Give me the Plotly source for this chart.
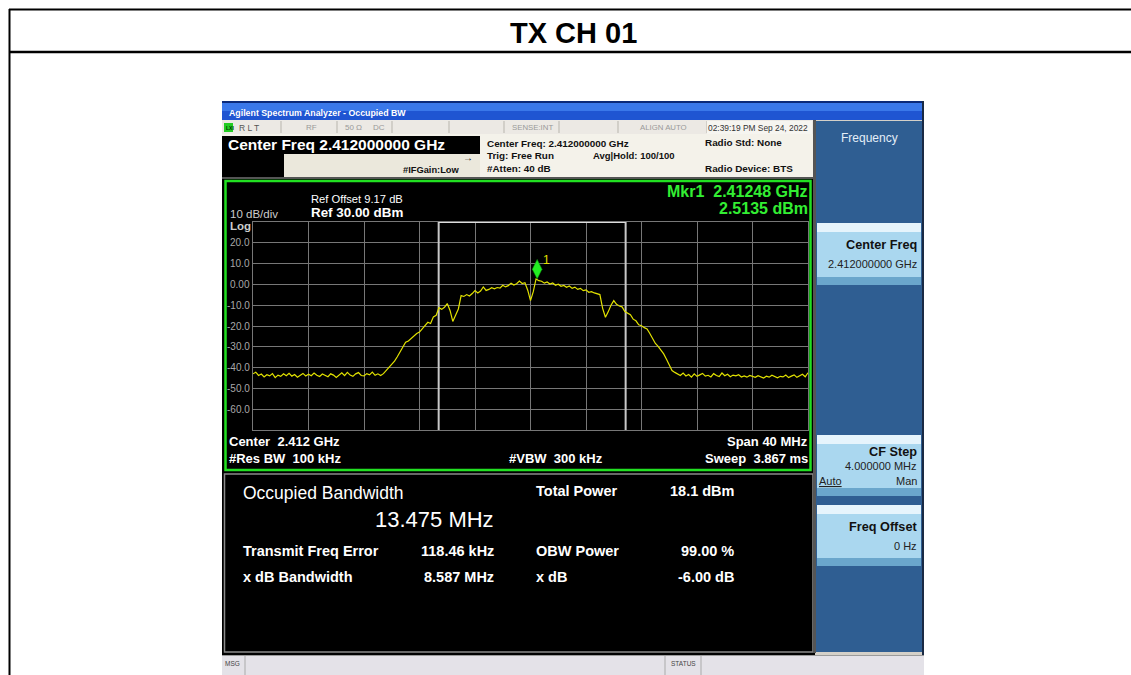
import plotly.graph_objects as go

# ---------------- data ----------------
center_mhz = 2412.0
span_mhz = 40.0
n_points = 201
trace_dbm = [
    -43.0, -42.2, -43.8, -43.1, -44.5, -43.4, -44.0, -42.9, -44.8, -43.6,
    -44.2, -43.0, -43.9, -42.7, -44.1, -43.3, -44.6, -43.5, -42.8, -44.0,
    -43.2, -43.9, -42.6, -43.7, -44.3, -43.1, -43.8, -44.4, -43.0, -43.6,
    -44.7, -43.4, -42.5, -43.9, -42.3, -43.6, -44.2, -43.0, -42.4, -43.8,
    -44.0, -42.9, -43.5, -42.2, -43.7, -43.0, -43.8, -42.9, -41.5, -40.0,
    -38.6, -36.9, -34.8, -32.5, -30.6, -27.8, -27.2, -25.9, -24.8, -23.6,
    -22.9, -21.4, -20.0, -18.2, -18.8, -15.6, -14.9, -11.2, -12.0, -11.0,
    -9.2, -12.5, -17.8, -15.0, -11.8, -5.4, -5.8, -4.9, -5.6, -4.4,
    -3.0, -4.1, -3.2, -1.2, -2.9, -2.4, -1.6, -2.1, -1.5, -1.8,
    -0.4, -1.2, -0.6, 0.6, -0.3, 0.3, 1.6, 0.4, 0.8, -2.8,
    -7.8, -3.5, 2.6, 1.8, 1.5, 0.6, 1.2, 0.2, 0.7, -0.4,
    0.1, -0.9, -0.5, -1.4, -0.8, -1.9, -1.3, -2.4, -1.9, -3.0,
    -2.6, -3.8, -3.5, -4.1, -4.6, -4.9, -11.5, -15.8, -13.2, -10.0,
    -7.8, -9.6, -10.4, -10.8, -13.0, -13.9, -14.6, -16.7, -17.5, -19.4,
    -19.9, -20.8, -21.4, -23.6, -26.2, -28.4, -29.8, -31.5, -33.4, -36.0,
    -38.7, -41.4, -42.3, -42.9, -43.8, -42.6, -44.0, -43.3, -44.6, -43.0,
    -44.2, -43.5, -42.8, -44.1, -43.7, -44.5, -42.9, -43.8, -44.3, -42.6,
    -43.9, -43.2, -44.4, -43.6, -44.0, -43.4, -44.5, -44.0, -44.6, -43.8,
    -44.2, -44.7, -43.9, -44.3, -45.0, -44.1, -44.6, -43.7, -44.4, -44.9,
    -44.2, -44.5, -43.6, -44.8, -44.1, -43.5, -44.7, -44.0, -43.2, -44.4,
    -42.5,
]
ref_level = 30.0
db_per_div = 10.0
n_div = 10
ytick_labels = ["20.0", "10.0", "0.00", "-10.0", "-20.0", "-30.0", "-40.0", "-50.0", "-60.0"]
ytick_values = [20, 10, 0, -10, -20, -30, -40, -50, -60]
mkr_freq_mhz = 2412.48
mkr_level = 2.5135
obw_mhz = 13.475
freq_err_mhz = 0.11846

# ---------------- helpers ----------------
W, H = 1131, 675
def X(px):
    return px / W
def Y(py):
    return 1 - py / H

shapes = []
annots = []

def rect(x0, y0, x1, y1, fill=None, line=None, lw=1, layer="below"):
    shapes.append(dict(type="rect", xref="paper", yref="paper",
                       x0=X(x0), x1=X(x1), y0=Y(y1), y1=Y(y0),
                       fillcolor=fill if fill else "rgba(0,0,0,0)",
                       line=dict(color=line if line else "rgba(0,0,0,0)", width=lw if line else 0),
                       layer=layer))

def hline(x0, x1, y, color, lw=1, layer="below"):
    shapes.append(dict(type="line", xref="paper", yref="paper", x0=X(x0), x1=X(x1),
                       y0=Y(y), y1=Y(y), line=dict(color=color, width=lw), layer=layer))

def vline(x, y0, y1, color, lw=1, layer="below"):
    shapes.append(dict(type="line", xref="paper", yref="paper", x0=X(x), x1=X(x),
                       y0=Y(y0), y1=Y(y1), line=dict(color=color, width=lw), layer=layer))

FONT = "Liberation Sans, Arial, sans-serif"
def txt(x, y, s, size, color, bold=False, anchor="left", underline=False):
    t = s
    if underline:
        t = f"<u>{t}</u>"
    if bold:
        t = f"<b>{t}</b>"
    annots.append(dict(x=X(x), y=Y(y), xref="paper", yref="paper", text=t, showarrow=False,
                       xanchor=anchor, yanchor="middle", borderpad=0,
                       font=dict(size=size, color=color, family=FONT)))

# ---------------- page frame ----------------
hline(9, 1131, 9.5, "black", 2)
hline(9, 1131, 52, "black", 2.5)
vline(9.5, 9, 675, "black", 2)
txt(573, 33, "TX CH 01", 29, "black", bold=True, anchor="center")

# ---------------- instrument window ----------------
rect(222, 101, 924, 675, fill="#d4d0c8")
rect(222, 101, 924, 103, fill="#0b2a7a")
rect(222, 103, 924, 111, fill="#3a78ea")
rect(222, 111, 924, 120, fill="#1f55d2")
txt(228, 113, "Agilent Spectrum Analyzer - Occupied BW", 8.8, "white", bold=True)

# status row 1
rect(222, 120, 815, 134, fill="#ece9e4")
for sx in [281, 337, 392, 449, 504, 559, 618, 707]:
    vline(sx, 121, 133, "#b8b5ad")
rect(224, 123, 233, 132, fill="#22cc22")
txt(225, 127.5, "LXI", 5, "#003300", bold=True)
txt(238, 127.5, "R L T", 8.5, "#555555")
txt(305, 127.5, "RF", 8, "#999999")
txt(344, 127.5, "50 Ω", 8, "#999999")
txt(372, 127.5, "DC", 8, "#999999")
txt(532, 127.5, "SENSE:INT", 7.8, "#999999", anchor="center")
txt(663, 127.5, "ALIGN AUTO", 7.8, "#999999", anchor="center")
rect(707, 121, 812, 134, fill="#f6f5f0")
txt(758, 128, "02:39:19 PM Sep 24, 2022", 8.4, "#333333", anchor="center")

# info rows
rect(222, 134, 815, 178, fill="#f4f2ea")
rect(284, 154, 480, 178, fill="#ebe8dc")
rect(222, 136, 480, 154, fill="black")
rect(222, 154, 284, 178, fill="black")
txt(227, 145, "Center Freq 2.412000000 GHz", 15.5, "white", bold=True)
txt(402, 170, "#IFGain:Low", 9.3, "#111111", bold=True)
txt(468, 157, "→", 10, "#111111", bold=True, anchor="center")
txt(486, 143, "Center Freq: 2.412000000 GHz", 9.9, "#111111", bold=True)
txt(486, 155.5, "Trig: Free Run", 9.9, "#111111", bold=True)
txt(592, 155.5, "Avg|Hold: 100/100", 9.5, "#111111", bold=True)
txt(486, 168, "#Atten: 40 dB", 9.9, "#111111", bold=True)
txt(704, 142.5, "Radio Std: None", 9.9, "#111111", bold=True)
txt(704, 168, "Radio Device: BTS", 9.9, "#111111", bold=True)
hline(222, 815, 178, "#555555", 2)

# plot panel
rect(222, 179, 815, 475, fill="black")
rect(225.5, 181, 810.5, 470, line="#22e022", lw=2.5)
txt(310, 199, "Ref Offset 9.17 dB", 11.2, "white")
txt(310, 212.5, "Ref 30.00 dBm", 13.4, "white", bold=True)
txt(229, 213.5, "10 dB/div", 11.5, "#cccccc")
txt(229, 226, "Log", 11.5, "#cccccc", bold=True)
txt(809, 191.5, "Mkr1  2.41248 GHz", 16, "#33ee33", bold=True, anchor="right")
txt(809, 208.5, "2.5135 dBm", 16, "#33ee33", bold=True, anchor="right")
txt(228, 441.5, "Center  2.412 GHz", 13, "white", bold=True)
txt(228, 458.5, "#Res BW  100 kHz", 13, "white", bold=True)
txt(508, 458.5, "#VBW  300 kHz", 13, "white", bold=True)
txt(809, 441.5, "Span 40 MHz", 13, "white", bold=True, anchor="right")
txt(809, 458.5, "Sweep  3.867 ms", 13, "white", bold=True, anchor="right")

# results panel
rect(222, 473, 815, 655, fill="black")
rect(224.5, 474, 813, 652, line="#8a8a8a", lw=1.5)
txt(242, 493, "Occupied Bandwidth", 17.5, "white")
txt(495, 519, "13.475 MHz", 22, "white", anchor="right")
txt(242, 551, "Transmit Freq Error", 14.5, "white", bold=True)
txt(495, 551, "118.46 kHz", 14.5, "white", bold=True, anchor="right")
txt(242, 577, "x dB Bandwidth", 14.5, "white", bold=True)
txt(495, 577, "8.587 MHz", 14.5, "white", bold=True, anchor="right")
txt(535, 491, "Total Power", 14.5, "white", bold=True)
txt(735, 491, "18.1 dBm", 14.5, "white", bold=True, anchor="right")
txt(535, 551, "OBW Power", 14.5, "white", bold=True)
txt(735, 551, "99.00 %", 14.5, "white", bold=True, anchor="right")
txt(535, 577, "x dB", 14.5, "white", bold=True)
txt(735, 577, "-6.00 dB", 14.5, "white", bold=True, anchor="right")

# bottom status bar
rect(222, 655, 924, 675, fill="#e4e2e8")
hline(222, 924, 655.5, "#9a9a9a", 1)
vline(245, 656, 675, "#aaaaaa")
vline(665, 656, 675, "#aaaaaa")
vline(701, 656, 675, "#aaaaaa")
txt(224, 663, "MSG", 6.5, "#444444")
txt(683, 663, "STATUS", 6.5, "#444444", anchor="center")

# softkey panel
rect(813, 120, 816, 653, fill="#555555")
rect(816, 121, 922, 652, fill="#2f5e92")
rect(922, 101, 924, 655, fill="#1a2a44")
txt(869, 138, "Frequency", 12, "#e4eef8", anchor="center")

def softkey(y0, y1):
    rect(817, y0, 921, y1, fill="#aad7ef")
    rect(817, y0, 921, y0 + 9, fill="#e6f4fc")
    rect(817, y1 - 8, 921, y1, fill="#6aa6cc")

softkey(223, 285)
txt(918, 245, "Center Freq", 12.7, "#111111", bold=True, anchor="right")
txt(918, 264, "2.412000000 GHz", 11, "#222222", anchor="right")
softkey(435, 496)
txt(918, 452, "CF Step", 12.7, "#111111", bold=True, anchor="right")
txt(918, 466, "4.000000 MHz", 11, "#222222", anchor="right")
txt(818, 481, "Auto", 11, "#222222", underline=True)
txt(918, 481, "Man", 11, "#222222", anchor="right")
softkey(505, 566)
txt(918, 527, "Freq Offset", 12.7, "#111111", bold=True, anchor="right")
txt(918, 546, "0 Hz", 11, "#222222", anchor="right")

# ---------------- the spectrum plot ----------------
f_start = center_mhz - span_mhz / 2
f_stop = center_mhz + span_mhz / 2
step = span_mhz / (n_points - 1)
freqs = [f_start + i * step for i in range(n_points)]
y_bottom = ref_level - db_per_div * n_div

obw_lo = center_mhz + freq_err_mhz - obw_mhz / 2
obw_hi = center_mhz + freq_err_mhz + obw_mhz / 2

fig = go.Figure()
obw_col = "#c8c8c8"
fig.add_trace(go.Scatter(x=[obw_lo, obw_lo], y=[y_bottom, ref_level], mode="lines",
                         line=dict(color=obw_col, width=2), hoverinfo="skip", showlegend=False))
fig.add_trace(go.Scatter(x=[obw_hi, obw_hi], y=[y_bottom, ref_level], mode="lines",
                         line=dict(color=obw_col, width=2), hoverinfo="skip", showlegend=False))
fig.add_trace(go.Scatter(x=[obw_lo, obw_hi], y=[ref_level, ref_level], mode="lines",
                         line=dict(color="#dddddd", width=2), hoverinfo="skip", showlegend=False))
fig.add_trace(go.Scatter(x=freqs, y=trace_dbm, mode="lines",
                         line=dict(color="#e2e200", width=1.2), showlegend=False))

# marker diamond sits just above the marker point
px_per_db = (430 - 222) / (db_per_div * n_div)
fig.add_trace(go.Scatter(x=[mkr_freq_mhz], y=[mkr_level + 10 / px_per_db], mode="markers",
                         marker=dict(symbol="diamond-tall", size=14, color="#22ee22",
                                     line=dict(color="#0a7a0a", width=0.5)),
                         showlegend=False))
annots.append(dict(x=mkr_freq_mhz, y=mkr_level + 19 / px_per_db, xref="x", yref="y",
                   text="1", showarrow=False, xshift=9, xanchor="center", yanchor="middle",
                   font=dict(size=12, color="#e2e200", family=FONT)))

for v, lab in zip(ytick_values, ytick_labels):
    annots.append(dict(x=X(251), y=v, xref="paper", yref="y", text=lab, showarrow=False,
                       xanchor="right", yanchor="middle", borderpad=0,
                       font=dict(size=10, color="#a8a8a8", family=FONT)))

grid_col = "#777777"
fig.update_layout(
    width=W, height=H, autosize=False,
    margin=dict(l=0, r=0, t=0, b=0, pad=0),
    paper_bgcolor="white", plot_bgcolor="black",
    shapes=shapes, annotations=annots,
    xaxis=dict(domain=[X(253), X(808)], range=[f_start, f_stop], tick0=f_start,
               dtick=span_mhz / n_div, showgrid=True, gridcolor=grid_col, gridwidth=1,
               showticklabels=False, ticks="", zeroline=False,
               showline=True, mirror=True, linecolor=grid_col, linewidth=1, fixedrange=True),
    yaxis=dict(domain=[Y(430), Y(222)], range=[y_bottom, ref_level], tick0=y_bottom,
               dtick=db_per_div, showgrid=True, gridcolor=grid_col, gridwidth=1,
               showticklabels=False, ticks="", zeroline=False,
               showline=True, mirror=True, linecolor=grid_col, linewidth=1, fixedrange=True),
    showlegend=False,
)

fig.write_html("out.html", config={"displayModeBar": False},
               post_script="document.body.style.margin='0';document.body.style.overflow='hidden';")
